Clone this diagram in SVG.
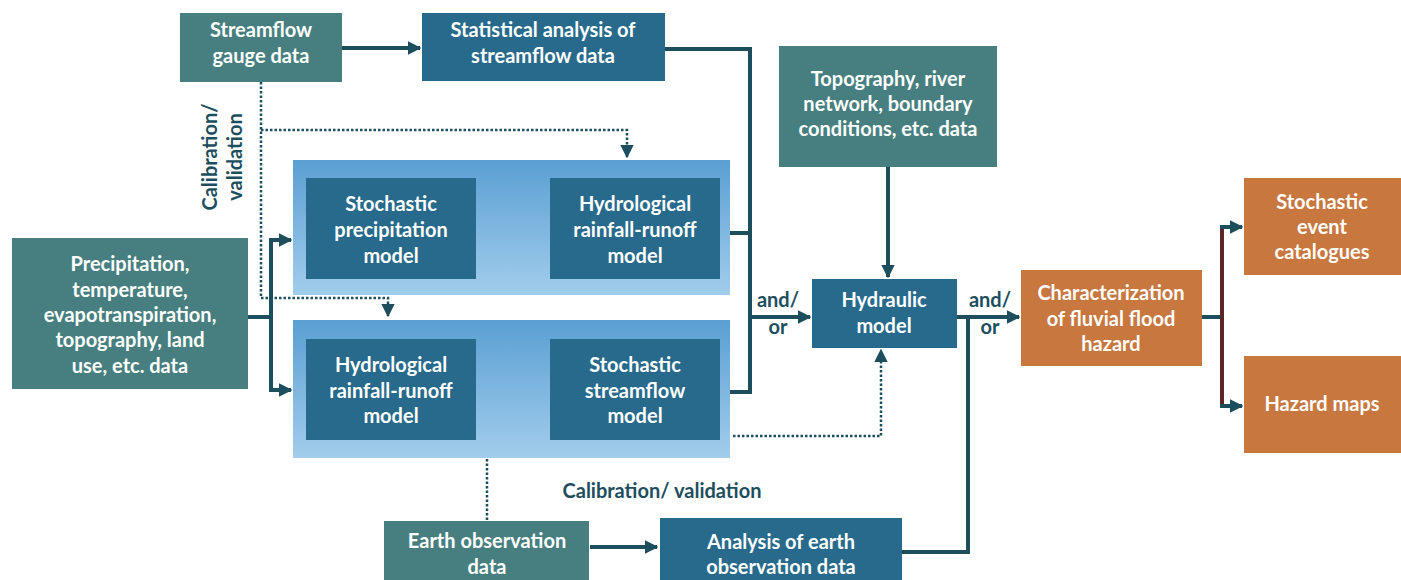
<svg xmlns="http://www.w3.org/2000/svg" width="1401" height="580" viewBox="0 0 1401 580">
<defs>
<linearGradient id="panel" x1="0" y1="0" x2="0" y2="1">
<stop offset="0" stop-color="#5a9fd3"/>
<stop offset="1" stop-color="#a2cdec"/>
</linearGradient>
<marker id="ah" viewBox="0 0 10 10" refX="9" refY="5" markerWidth="3.4" markerHeight="3.4" orient="auto" markerUnits="strokeWidth">
<path d="M0,0 L10,5 L0,10 z" fill="#1d4e5e"/>
</marker>
<marker id="ahd" viewBox="0 0 10 10" refX="9" refY="5" markerWidth="5.5" markerHeight="5.5" orient="auto" markerUnits="strokeWidth">
<path d="M0,0 L10,5 L0,10 z" fill="#1d4e5e"/>
</marker>
</defs>
<style>
text{font-family:Lato,"Open Sans","Liberation Sans",sans-serif;font-weight:bold;font-size:20px;text-anchor:middle}
.w{fill:#ffffff}
.d{fill:#1d4e5e}
.teal{fill:#477f80}
.blue{fill:#286a8b}
.orange{fill:#c8773f}
.pan{fill:url(#panel)}
.c{fill:none;stroke:#1d4e5e;stroke-width:4}
.dot{fill:none;stroke:#1d4e5e;stroke-width:2.5;stroke-dasharray:2.5 2}
</style>
<rect width="1401" height="580" fill="#ffffff"/>

<g id="connectors">
<line class="c" x1="342" y1="48" x2="420" y2="48" marker-end="url(#ah)"/>
<polyline class="c" points="665,49 750,49 750,392 720,392"/>
<line class="c" x1="720" y1="233" x2="750" y2="233"/>
<line class="c" x1="750" y1="317" x2="810" y2="317" marker-end="url(#ah)"/>
<line class="c" x1="888" y1="167" x2="888" y2="277" marker-end="url(#ah)"/>
<line class="c" x1="476" y1="231" x2="547" y2="231" marker-end="url(#ah)"/>
<line class="c" x1="476" y1="391" x2="547" y2="391" marker-end="url(#ah)"/>
<polyline class="c" points="248,317 271,317"/>
<polyline class="c" points="271,240 271,390"/>
<line class="c" x1="269" y1="240" x2="291" y2="240" marker-end="url(#ah)"/>
<line class="c" x1="269" y1="390" x2="291" y2="390" marker-end="url(#ah)"/>
<line class="c" x1="957" y1="317" x2="1019" y2="317" marker-end="url(#ah)"/>
<polyline class="c" points="902,552 968,552 968,317"/>
<line class="c" x1="590" y1="547" x2="657" y2="547" marker-end="url(#ah)"/>
<line class="c" x1="1202" y1="317" x2="1222" y2="317"/>
<line x1="1222" y1="227" x2="1222" y2="408" stroke="#5a2626" stroke-width="4"/>
<line class="c" x1="1220" y1="227" x2="1242" y2="227" marker-end="url(#ah)"/>
<line class="c" x1="1220" y1="406" x2="1242" y2="406" marker-end="url(#ah)"/>
<polyline class="dot" points="261,82 261,298 388,298 388,316" marker-end="url(#ahd)"/>
<polyline class="dot" points="261,130 627,130 627,157" marker-end="url(#ahd)"/>
<polyline class="dot" points="733,436 881,436 881,350" marker-end="url(#ahd)"/>
<line class="dot" x1="487" y1="459" x2="487" y2="520"/>
</g>

<g id="panel-top"><rect class="pan" x="293" y="160" width="437" height="135"/></g>
<g id="panel-bottom"><rect class="pan" x="293" y="320" width="437" height="138"/></g>

<g id="streamflow-gauge">
<rect class="teal" x="180" y="13" width="162" height="69"/>
<text class="w" x="261" y="37">Streamflow</text>
<text class="w" x="261" y="63">gauge data</text>
</g>
<g id="statistical-analysis">
<rect class="blue" x="422" y="13" width="243" height="68"/>
<text class="w" x="543" y="37">Statistical analysis of</text>
<text class="w" x="543" y="63">streamflow data</text>
</g>
<g id="topography">
<rect class="teal" x="779" y="46" width="218" height="121"/>
<text class="w" x="888" y="86">Topography, river</text>
<text class="w" x="888" y="111">network, boundary</text>
<text class="w" x="888" y="136">conditions, etc. data</text>
</g>
<g id="precipitation">
<rect class="teal" x="12" y="238" width="236" height="151"/>
<text class="w" x="130" y="271">Precipitation,</text>
<text class="w" x="130" y="297">temperature,</text>
<text class="w" x="130" y="322">evapotranspiration,</text>
<text class="w" x="130" y="347">topography, land</text>
<text class="w" x="130" y="373">use, etc. data</text>
</g>
<g id="stochastic-precipitation">
<rect class="blue" x="306" y="178" width="170" height="101"/>
<text class="w" x="391" y="211">Stochastic</text>
<text class="w" x="391" y="237">precipitation</text>
<text class="w" x="391" y="263">model</text>
</g>
<g id="hydrological-top">
<rect class="blue" x="550" y="178" width="170" height="101"/>
<text class="w" x="635" y="211">Hydrological</text>
<text class="w" x="635" y="237">rainfall-runoff</text>
<text class="w" x="635" y="263">model</text>
</g>
<g id="hydrological-bottom">
<rect class="blue" x="306" y="339" width="170" height="101"/>
<text class="w" x="391" y="372">Hydrological</text>
<text class="w" x="391" y="398">rainfall-runoff</text>
<text class="w" x="391" y="423">model</text>
</g>
<g id="stochastic-streamflow">
<rect class="blue" x="550" y="339" width="170" height="101"/>
<text class="w" x="635" y="372">Stochastic</text>
<text class="w" x="635" y="398">streamflow</text>
<text class="w" x="635" y="423">model</text>
</g>
<g id="hydraulic">
<rect class="blue" x="812" y="279" width="145" height="69"/>
<text class="w" x="884" y="307">Hydraulic</text>
<text class="w" x="884" y="333">model</text>
</g>
<g id="characterization">
<rect class="orange" x="1021" y="270" width="181" height="96"/>
<text class="w" x="1111" y="300">Characterization</text>
<text class="w" x="1111" y="326">of fluvial flood</text>
<text class="w" x="1111" y="351">hazard</text>
</g>
<g id="stochastic-event">
<rect class="orange" x="1244" y="178" width="157" height="97"/>
<text class="w" x="1322" y="209">Stochastic</text>
<text class="w" x="1322" y="234">event</text>
<text class="w" x="1322" y="259">catalogues</text>
</g>
<g id="hazard-maps">
<rect class="orange" x="1244" y="356" width="157" height="97"/>
<text class="w" x="1322" y="411">Hazard maps</text>
</g>
<g id="earth-observation">
<rect class="teal" x="384" y="521" width="205" height="59"/>
<text class="w" x="487" y="548">Earth observation</text>
<text class="w" x="487" y="574">data</text>
</g>
<g id="analysis-earth">
<rect class="blue" x="660" y="518" width="242" height="62"/>
<text class="w" x="781" y="549">Analysis of earth</text>
<text class="w" x="781" y="574">observation data</text>
</g>

<g id="labels">
<text class="d" x="778" y="307">and/</text>
<text class="d" x="778" y="334">or</text>
<text class="d" x="990" y="307">and/</text>
<text class="d" x="990" y="334">or</text>
<text class="d" x="662" y="498">Calibration/ validation</text>
<text class="d" transform="translate(217,157) rotate(-90)">Calibration/</text>
<text class="d" transform="translate(242,157) rotate(-90)">validation</text>
</g>
</svg>
